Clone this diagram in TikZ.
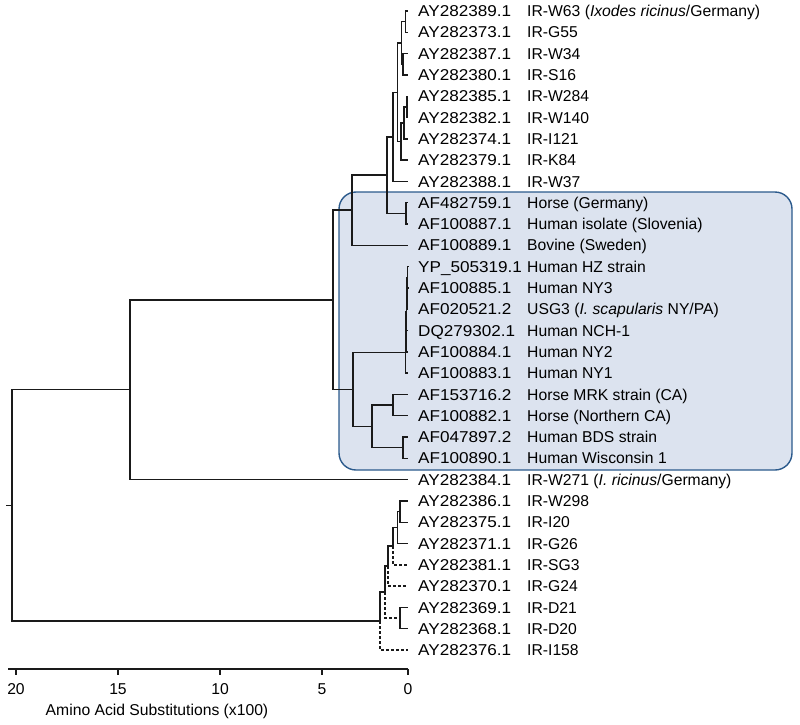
\documentclass[tikz,border=0pt]{standalone}
\usepackage{fontspec}
\usepackage{graphicx}
\setmainfont{Liberation Sans}
\usetikzlibrary{calc}
\definecolor{boxfill}{HTML}{DCE3EF}
\definecolor{boxline}{HTML}{2B5A8C}
\definecolor{treeline}{HTML}{1A1A1A}
\newcommand{\ry}[1]{11+21.3*(#1-1)}
\newcommand{\jn}[4]{\path let \p1=(#3), \p2=(#4) in coordinate (#1) at (#2pt, {\y1/2+\y2/2});}
\newcommand{\ed}[2]{\draw[tree] (#1) |- (#2);}
\newcommand{\edd}[2]{\draw[tree,dashline] (#1) |- (#2);}
\newcommand{\leaf}[3]{\node[acc] (a#1) at (418, {\ry{#1}}) {\scalebox{1.09}[1]{#2}};\node[desc] (d#1) at (527, {\ry{#1}}) {#3};}
\begin{document}
\begin{tikzpicture}[x=1pt,y=-1pt,
  every node/.style={font=\fontsize{15.7}{18}\selectfont, inner sep=0pt},
  acc/.style={anchor=west, text height=11.2pt, text depth=0pt},
  desc/.style={anchor=west, text height=11.2pt, text depth=0pt},
  tree/.style={draw=treeline, line width=1.4pt},
  dashline/.style={dash pattern=on 3pt off 2pt},
  cladebox/.style={draw=boxline, fill=boxfill, line width=1.4pt, rounded corners=17pt},
  axislab/.style={anchor=center}]
\useasboundingbox (0,0) rectangle (800,724);
% clade box
\node[cladebox, minimum width=453pt, minimum height=278pt] (box) at (565.5,331) {};
% tips
\foreach \i in {1,...,31} {\coordinate (t\i) at (408, {\ry{\i}});}
% top group
\jn{nA}{405.5}{t1}{t2}
\jn{nB}{403}{t3}{t4}
\jn{nAB}{401.5}{nA}{nB}
\jn{nC}{407}{t5}{t6}
\jn{nCD}{404}{nC}{t7}
\jn{nCDE}{401}{nCD}{t8}
\jn{nFour}{397.5}{nAB}{nCDE}
\jn{nThree}{393}{nFour}{t9}
\jn{nH}{406}{t10}{t11}
\jn{nTwo}{387}{nThree}{nH}
\jn{nTop}{352}{nTwo}{t12}
% NY group
\jn{nW}{407.5}{t13}{t14}
\jn{nV}{407}{nW}{t15}
\jn{nZ}{406.5}{nV}{t16}
\jn{nY}{406}{nZ}{t17}
\jn{nX}{405.5}{nY}{t18}
\jn{nMRK}{393}{t19}{t20}
\jn{nBDS}{403}{t21}{t22}
\jn{nHorseTwo}{372}{nMRK}{nBDS}
\jn{nMid}{353}{nX}{nHorseTwo}
\jn{nBig}{333}{nTop}{nMid}
\jn{nTopClade}{130}{nBig}{t23}
% bottom group
\jn{nQa}{400}{t24}{t25}
\jn{nQb}{397.5}{nQa}{t26}
\jn{nQc}{393}{nQb}{t27}
\jn{nQd}{388}{nQc}{t28}
\jn{nQe}{400}{t29}{t30}
\jn{nQf}{385}{nQd}{nQe}
\jn{nQg}{380}{nQf}{t31}
\jn{root}{12}{nTopClade}{nQg}
\path let \p1=(root) in coordinate (rstub) at (6pt,\y1);
% edges
\ed{nA}{t1}\ed{nA}{t2}
\ed{nB}{t3}\ed{nB}{t4}
\ed{nAB}{nA}\ed{nAB}{nB}
\ed{nC}{t5}\ed{nC}{t6}
\ed{nCD}{nC}\ed{nCD}{t7}
\ed{nCDE}{nCD}\ed{nCDE}{t8}
\ed{nFour}{nAB}\ed{nFour}{nCDE}
\ed{nThree}{nFour}\ed{nThree}{t9}
\ed{nH}{t10}\ed{nH}{t11}
\ed{nTwo}{nThree}\ed{nTwo}{nH}
\ed{nTop}{nTwo}\ed{nTop}{t12}
\ed{nW}{t13}\ed{nW}{t14}
\ed{nV}{nW}\ed{nV}{t15}
\ed{nZ}{nV}\ed{nZ}{t16}
\ed{nY}{nZ}\ed{nY}{t17}
\ed{nX}{nY}\ed{nX}{t18}
\ed{nMRK}{t19}\ed{nMRK}{t20}
\ed{nBDS}{t21}\ed{nBDS}{t22}
\ed{nHorseTwo}{nMRK}\ed{nHorseTwo}{nBDS}
\ed{nMid}{nX}\ed{nMid}{nHorseTwo}
\ed{nBig}{nTop}\ed{nBig}{nMid}
\ed{nTopClade}{nBig}\ed{nTopClade}{t23}
\ed{nQa}{t24}\ed{nQa}{t25}
\ed{nQb}{nQa}\ed{nQb}{t26}
\ed{nQc}{nQb}\edd{nQc}{t27}
\ed{nQd}{nQc}\edd{nQd}{t28}
\ed{nQe}{t29}\ed{nQe}{t30}
\ed{nQf}{nQd}\edd{nQf}{nQe}
\ed{nQg}{nQf}\edd{nQg}{t31}
\ed{root}{nTopClade}\ed{root}{nQg}
\draw[tree] (rstub) -- (root);
% labels
\leaf{1}{AY282389.1}{IR-W63 (\textit{Ixodes ricinus}/Germany)}
\leaf{2}{AY282373.1}{IR-G55}
\leaf{3}{AY282387.1}{IR-W34}
\leaf{4}{AY282380.1}{IR-S16}
\leaf{5}{AY282385.1}{IR-W284}
\leaf{6}{AY282382.1}{IR-W140}
\leaf{7}{AY282374.1}{IR-I121}
\leaf{8}{AY282379.1}{IR-K84}
\leaf{9}{AY282388.1}{IR-W37}
\leaf{10}{AF482759.1}{Horse (Germany)}
\leaf{11}{AF100887.1}{Human isolate (Slovenia)}
\leaf{12}{AF100889.1}{Bovine (Sweden)}
\leaf{13}{YP\_505319.1}{Human HZ strain}
\leaf{14}{AF100885.1}{Human NY3}
\leaf{15}{AF020521.2}{USG3 (\textit{I. scapularis} NY/PA)}
\leaf{16}{DQ279302.1}{Human NCH-1}
\leaf{17}{AF100884.1}{Human NY2}
\leaf{18}{AF100883.1}{Human NY1}
\leaf{19}{AF153716.2}{Horse MRK strain (CA)}
\leaf{20}{AF100882.1}{Horse (Northern CA)}
\leaf{21}{AF047897.2}{Human BDS strain}
\leaf{22}{AF100890.1}{Human Wisconsin 1}
\leaf{23}{AY282384.1}{IR-W271 (\textit{I. ricinus}/Germany)}
\leaf{24}{AY282386.1}{IR-W298}
\leaf{25}{AY282375.1}{IR-I20}
\leaf{26}{AY282371.1}{IR-G26}
\leaf{27}{AY282381.1}{IR-SG3}
\leaf{28}{AY282370.1}{IR-G24}
\leaf{29}{AY282369.1}{IR-D21}
\leaf{30}{AY282368.1}{IR-D20}
\leaf{31}{AY282376.1}{IR-I158}
% axis
\coordinate (axL) at (8,669);
\coordinate (axR) at (408,669);
\draw[tree] (axL) -- (axR);
\foreach \xx/\lab [count=\k] in {16/20,118/15,220/10,322/5,408/0} {
  \coordinate (tk\k) at (\xx,669);
  \coordinate (tkb\k) at (\xx,675);
  \draw[tree] (tk\k) -- (tkb\k);
  \node[axislab] (tl\k) at (\xx,689) {\lab};
}
\node[axislab] (axtitle) at (157,711) {Amino Acid Substitutions (x100)};
\end{tikzpicture}
\end{document}
